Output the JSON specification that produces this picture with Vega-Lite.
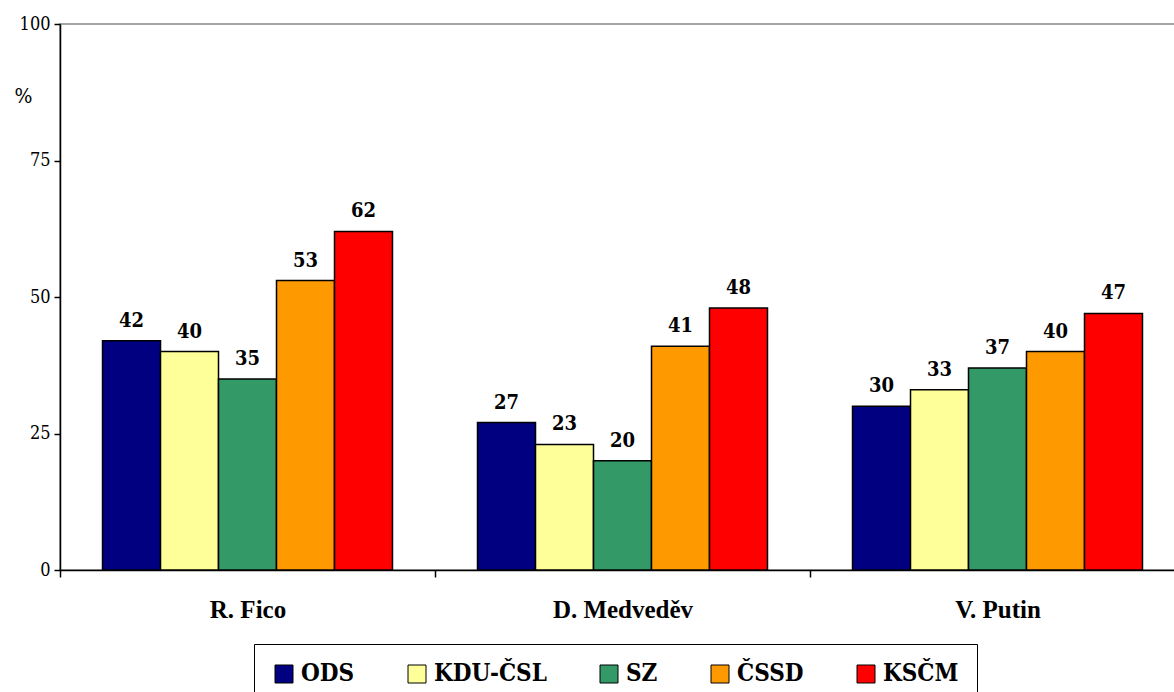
{
  "$schema": "https://vega.github.io/schema/vega-lite/v6.json",
  "width": 1125,
  "height": 546,
  "autosize": {"type": "none"},
  "padding": {"left": 60, "top": 24, "right": 0, "bottom": 122},
  "background": "white",
  "config": {
    "view": {"stroke": "#888888", "strokeWidth": 1.5}
  },
  "data": {
    "values": [
      {"person": "R. Fico", "party": "ODS", "value": 42},
      {"person": "R. Fico", "party": "KDU-ČSL", "value": 40},
      {"person": "R. Fico", "party": "SZ", "value": 35},
      {"person": "R. Fico", "party": "ČSSD", "value": 53},
      {"person": "R. Fico", "party": "KSČM", "value": 62},
      {"person": "D. Medveděv", "party": "ODS", "value": 27},
      {"person": "D. Medveděv", "party": "KDU-ČSL", "value": 23},
      {"person": "D. Medveděv", "party": "SZ", "value": 20},
      {"person": "D. Medveděv", "party": "ČSSD", "value": 41},
      {"person": "D. Medveděv", "party": "KSČM", "value": 48},
      {"person": "V. Putin", "party": "ODS", "value": 30},
      {"person": "V. Putin", "party": "KDU-ČSL", "value": 33},
      {"person": "V. Putin", "party": "SZ", "value": 37},
      {"person": "V. Putin", "party": "ČSSD", "value": 40},
      {"person": "V. Putin", "party": "KSČM", "value": 47}
    ]
  },
  "encoding": {
    "x": {
      "field": "person",
      "type": "nominal",
      "sort": ["R. Fico", "D. Medveděv", "V. Putin"],
      "scale": {"paddingInner": 0, "paddingOuter": 0},
      "axis": {
        "title": null,
        "labelAngle": 0,
        "labelFont": "Liberation Serif",
        "labelFontSize": 25,
        "labelFontWeight": "bold",
        "labelColor": "black",
        "labelPadding": 20,
        "tickBand": "extent",
        "tickSize": 7,
        "tickColor": "black",
        "tickWidth": 1.5,
        "domainColor": "black",
        "domainWidth": 1.5
      }
    },
    "xOffset": {
      "field": "party",
      "type": "nominal",
      "sort": ["ODS", "KDU-ČSL", "SZ", "ČSSD", "KSČM"],
      "scale": {"paddingInner": 0, "paddingOuter": 0.733}
    },
    "y": {
      "field": "value",
      "type": "quantitative",
      "scale": {"domain": [0, 100], "nice": false},
      "axis": {
        "values": [0, 25, 50, 75, 100],
        "grid": false,
        "title": "%",
        "titleAngle": 0,
        "titleFont": "DejaVu Serif Condensed",
        "titleFontSize": 21,
        "titleFontWeight": "normal",
        "titleColor": "black",
        "titleX": -37,
        "titleY": 72,
        "titleAlign": "center",
        "titleBaseline": "middle",
        "labelFont": "DejaVu Serif Condensed",
        "labelFontSize": 18,
        "labelColor": "black",
        "labelPadding": 4,
        "tickSize": 6,
        "tickColor": "black",
        "tickWidth": 1.5,
        "domainColor": "black",
        "domainWidth": 1.5
      }
    }
  },
  "layer": [
    {
      "mark": {"type": "bar", "stroke": "black", "strokeWidth": 1.5},
      "encoding": {
        "color": {
          "field": "party",
          "type": "nominal",
          "sort": ["ODS", "KDU-ČSL", "SZ", "ČSSD", "KSČM"],
          "scale": {
            "domain": ["ODS", "KDU-ČSL", "SZ", "ČSSD", "KSČM"],
            "range": ["#000080", "#FFFF99", "#339966", "#FF9900", "#FF0000"]
          },
          "legend": {
            "title": null,
            "orient": "none",
            "direction": "horizontal",
            "legendX": 194,
            "legendY": 620,
            "columns": 5,
            "columnPadding": 50,
            "padding": 18,
            "strokeColor": "black",
            "fillColor": "white",
            "symbolType": "square",
            "symbolSize": 324,
            "symbolStrokeColor": "black",
            "symbolStrokeWidth": 1,
            "labelFont": "DejaVu Serif Condensed",
            "labelFontSize": 24,
            "labelFontWeight": "bold",
            "labelColor": "black",
            "labelOffset": 5,
            "labelLimit": 300
          }
        }
      }
    },
    {
      "mark": {
        "type": "text",
        "baseline": "bottom",
        "dy": -10,
        "font": "DejaVu Serif Condensed",
        "fontSize": 20,
        "fontWeight": "bold",
        "color": "black"
      },
      "encoding": {
        "text": {"field": "value", "type": "quantitative"}
      }
    }
  ]
}
